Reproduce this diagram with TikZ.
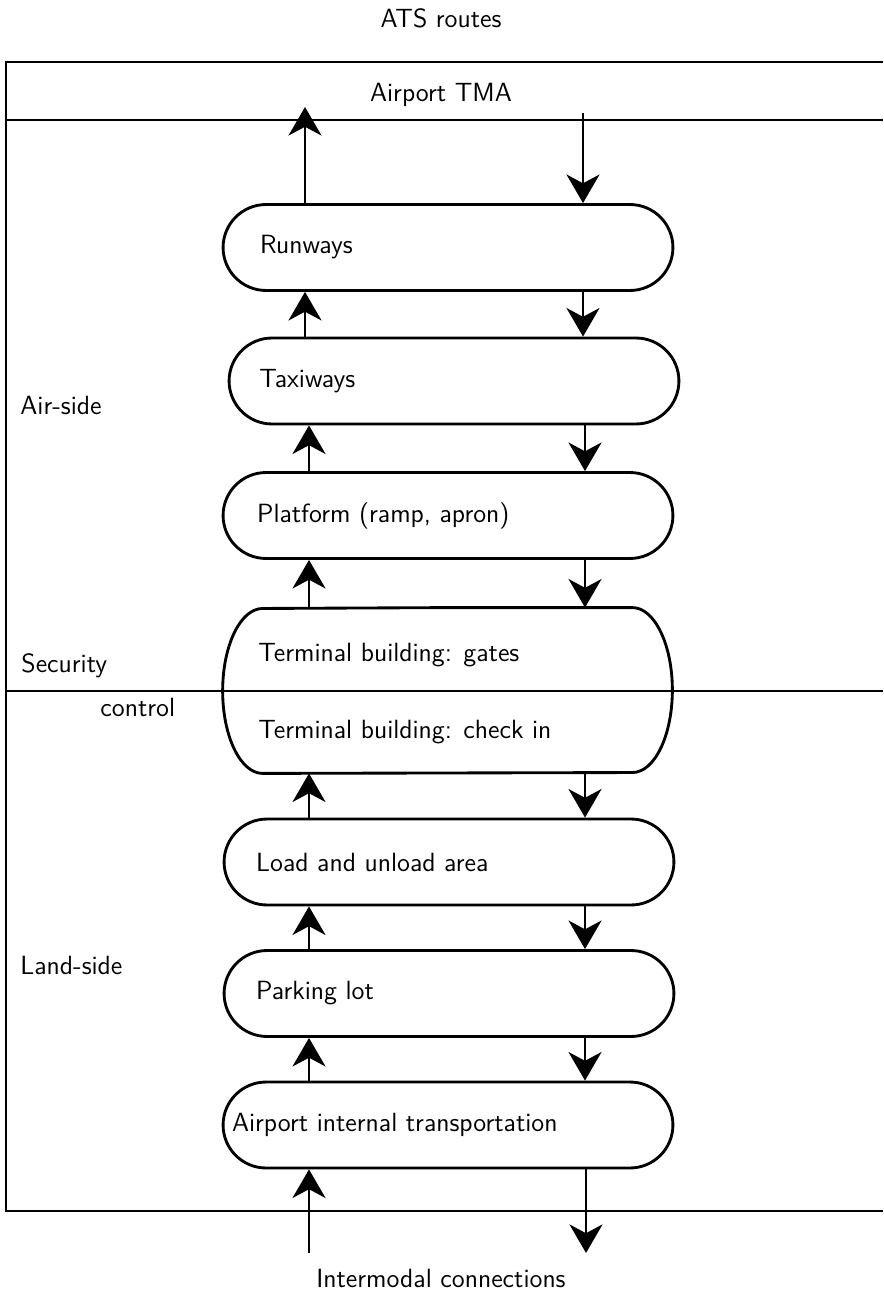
\documentclass[tikz,border=0pt]{standalone}
\usetikzlibrary{shapes.misc, arrows.meta, positioning}

\begin{document}
\begin{tikzpicture}[
  x=0.016cm, y=-0.016cm,
  area/.style={
    draw, line width=1.3pt, rounded rectangle,
    minimum width=7.2cm, minimum height=1.376cm,
    inner sep=0pt
  },
  txt/.style={font=\sffamily\large, anchor=west, inner sep=0pt},
  ctxt/.style={font=\sffamily\large, inner sep=0pt},
  frame/.style={line width=1.3pt},
  flow/.style={-{Stealth[length=13pt, width=15pt, inset=4pt]}, line width=1.3pt}
]
\useasboundingbox (0,0) rectangle (883,1302);

%% frame of the airport
\draw[frame] (883,62) -- (6,62) -- (6,1211) -- (883,1211);
\draw[frame] (6,120) -- (883,120);
\draw[frame] (6,691) -- (883,691);

\node[ctxt] (ats) at (441,18) {ATS routes};
\node[ctxt] (tma) at (441,95) {Airport TMA};
\node[ctxt] (inter) at (441,1278) {Intermodal connections};

\node[txt] (air) at (20,405) {Air-side};
\node[txt] (sec) at (21,666) {Security};
\node[txt] (ctl) at (100,707) {control};
\node[txt] (land) at (20,965) {Land-side};

%% areas
\node[area] (rwy) at (448,247.5) {};
\node[txt] (rwy-t) at ([xshift=0.61cm]rwy.west) {Runways};

\node[area] (taxi) at (454,381) {};
\node[txt] (taxi-t) at ([xshift=0.5cm]taxi.west) {Taxiways};

\node[area] (plat) at (448,515.5) {};
\node[txt] (plat-t) at ([xshift=0.56cm]plat.west) {Platform (ramp, apron)};

%% terminal: elliptic ends
\node[minimum width=7.184cm, minimum height=2.64cm, inner sep=0pt] (term) at (447.5,690.5) {};
\draw[frame, line join=round] (term.north) -- ([xshift=-0.64cm]term.north east)
  arc[start angle=90, end angle=-90, x radius=0.64cm, y radius=1.32cm]
  -- ([xshift=0.64cm]term.south west)
  arc[start angle=270, end angle=90, x radius=0.64cm, y radius=1.32cm] -- cycle;
\node[txt] (gates-t) at (258,655) {Terminal building: gates};
\node[txt] (check-t) at (258,732) {Terminal building: check in};

\node[area] (load) at (449,862) {};
\node[txt] (load-t) at ([xshift=0.53cm]load.west) {Load and unload area};

\node[area] (park) at (449,993.5) {};
\node[txt] (park-t) at ([xshift=0.53cm]park.west) {Parking lot};

\node[area] (trans) at (448,1125) {};
\node[txt] (trans-t) at ([xshift=0.16cm]trans.west) {Airport internal transportation};

%% flows up (departure) and down (arrival)
\coordinate (up) at (309,0);
\coordinate (dn) at (585,0);
\coordinate (tma-out) at (305,107);
\coordinate (tma-in) at (583,113);
\coordinate (ext-in) at (309,1253);
\coordinate (ext-out) at (586,1253);

\draw[flow] (rwy.north -| tma-out) -- (tma-out);
\draw[flow] (tma-in) -- (rwy.north -| tma-in);

\draw[flow] (taxi.north -| tma-out) -- (rwy.south -| tma-out);
\draw[flow] (rwy.south -| tma-in) -- (taxi.north -| tma-in);

\draw[flow] (plat.north -| up) -- (taxi.south -| up);
\draw[flow] (taxi.south -| dn) -- (plat.north -| dn);

\draw[flow] (term.north -| up) -- (plat.south -| up);
\draw[flow] (plat.south -| dn) -- (term.north -| dn);

\draw[flow] (load.north -| up) -- (term.south -| up);
\draw[flow] (term.south -| dn) -- (load.north -| dn);

\draw[flow] (park.north -| up) -- (load.south -| up);
\draw[flow] (load.south -| dn) -- (park.north -| dn);

\draw[flow] (trans.north -| up) -- (park.south -| up);
\draw[flow] (park.south -| dn) -- (trans.north -| dn);

\draw[flow] (ext-in) -- (trans.south -| ext-in);
\draw[flow] (trans.south -| ext-out) -- (ext-out);

\end{tikzpicture}
\end{document}
